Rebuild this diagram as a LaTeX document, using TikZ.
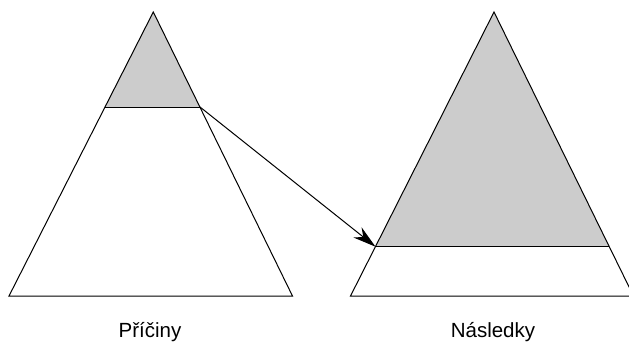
\documentclass[tikz,border=0pt]{standalone}
\usepackage{fontspec}
\setmainfont{Liberation Sans}
\usetikzlibrary{arrows.meta}
\definecolor{partgray}{gray}{0.8}
\tikzset{lbl/.style={draw=none, fill=none, inner sep=0pt, anchor=base,
  font=\fontsize{20.5}{24}\selectfont}}

\begin{document}
\begin{tikzpicture}[x=1pt, y=-1pt, >={Stealth[length=23pt, width=13pt]},
  line width=1pt, line join=miter]
  \useasboundingbox (0,0) rectangle (629,346);
  \clip (0,0) rectangle (629,346);
  % Causes
  \coordinate (ltop)  at (153.3, 12);
  \coordinate (lcutl) at (104.7, 107);
  \coordinate (lcutr) at (200, 107);
  \coordinate (lbotl) at (9, 296);
  \coordinate (lbotr) at (292.5, 296);
  \fill[partgray] (ltop) -- (lcutr) -- (lcutl) -- cycle;
  \draw (ltop) -- (lbotr) -- (lbotl) -- cycle;
  \draw (lcutl) -- (lcutr);
  % Effects
  \coordinate (rtop)  at (494, 12);
  \coordinate (rcutl) at (375.5, 246.7);
  \coordinate (rcutr) at (609.3, 246.7);
  \coordinate (rbotl) at (350.5, 296);
  \coordinate (rbotr) at (633.5, 296);
  \fill[partgray] (rtop) -- (rcutr) -- (rcutl) -- cycle;
  \draw (rtop) -- (rbotr) -- (rbotl) -- cycle;
  \draw (rcutl) -- (rcutr);
  % Link
  \draw[->] (lcutr) -- (rcutl);
  \node[lbl] (causes)  at (150, 337) {Příčiny};
  \node[lbl] (effects) at (493, 337) {Následky};
\end{tikzpicture}
\end{document}
